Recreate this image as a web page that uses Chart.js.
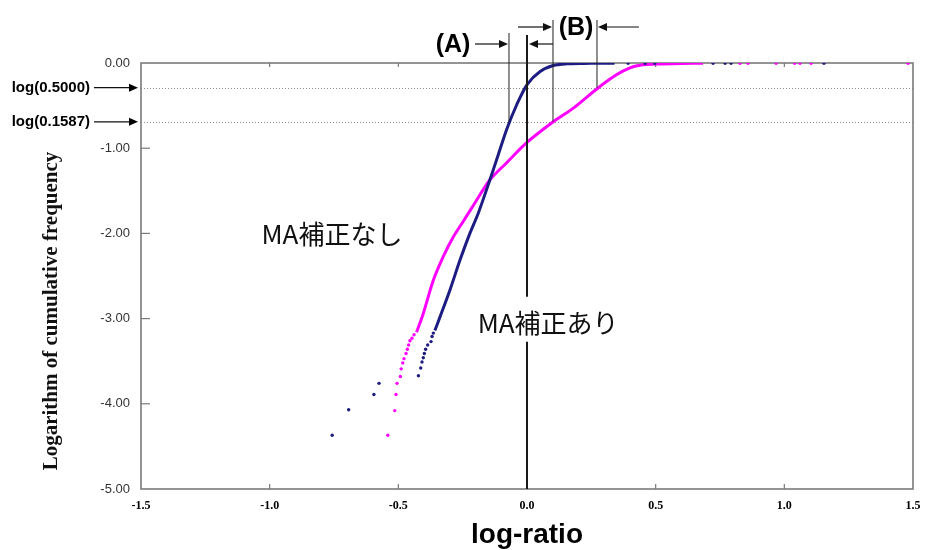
<!DOCTYPE html>
<html><head><meta charset="utf-8">
<script src="https://cdn.jsdelivr.net/npm/chart.js@4.4.1/dist/chart.umd.min.js"></script>
<style>html,body{margin:0;padding:0;background:#fff}#wrap{width:925px;height:550px}</style>
</head><body><div id="wrap"><canvas id="c" width="925" height="550"></canvas></div>
<script>
// ---- tick labels ----
const xTickLabels = ['-1.5','-1.0','-0.5','0.0','0.5','1.0','1.5'];
const yTickLabels = ['0.00','-1.00','-2.00','-3.00','-4.00','-5.00'];

// ---- MA補正あり (navy): dense part ----
const blueLineX = [-0.358,-0.338,-0.299,-0.260,-0.222,-0.189,-0.144,-0.112,-0.079,-0.040,0.001,0.051,0.102,0.154,0.220,0.280,0.340];
const blueLineY = [-3.14,-2.98,-2.66,-2.31,-2.00,-1.76,-1.37,-1.08,-0.78,-0.49,-0.25,-0.10,-0.03,-0.01,-0.005,-0.003,-0.002];
// sparse tail points
const blueDotX = [-0.757,-0.693,-0.595,-0.575,-0.422,-0.413,-0.408,-0.403,-0.399,-0.394,-0.386,-0.373,-0.369,-0.364,0.393,0.459,0.497,0.723,0.770,0.793,1.154];
const blueDotY = [-4.37,-4.07,-3.89,-3.76,-3.67,-3.58,-3.51,-3.46,-3.41,-3.36,-3.31,-3.27,-3.21,-3.17,-0.003,-0.003,-0.003,-0.003,-0.003,-0.003,-0.003];

// ---- MA補正なし (magenta): dense part ----
const pinkLineX = [-0.429,-0.403,-0.364,-0.325,-0.286,-0.248,-0.202,-0.144,-0.079,0.001,0.102,0.180,0.277,0.349,0.400,0.439,0.504,0.600,0.684];
const pinkLineY = [-3.16,-2.94,-2.55,-2.27,-2.04,-1.86,-1.64,-1.37,-1.17,-0.93,-0.69,-0.53,-0.29,-0.135,-0.056,-0.026,-0.012,-0.005,-0.003];
const pinkDotX = [-0.541,-0.514,-0.509,-0.505,-0.492,-0.489,-0.483,-0.478,-0.470,-0.465,-0.460,-0.455,-0.447,-0.439,0.828,0.859,0.968,1.040,1.061,1.104,1.481];
const pinkDotY = [-4.37,-4.08,-3.89,-3.76,-3.68,-3.59,-3.52,-3.47,-3.41,-3.36,-3.31,-3.26,-3.23,-3.19,-0.003,-0.003,-0.003,-0.003,-0.003,-0.003,-0.003];

// ---- reference levels (as drawn) and range markers ----
const refLevels = [-0.29, -0.69];
const refLabels = ['log(0.5000)', 'log(0.1587)'];
const markerA = [-0.07, 0.0];
const markerB = [0.101, 0.272];
const seriesNames = ['MA補正あり', 'MA補正なし'];

const NAVY = '#1c1c82', MAGENTA = '#ff00ff';
const pts = (xs, ys) => xs.map((v, i) => ({x: v, y: ys[i]}));

function arrow(ctx, x1, y1, x2, y2) {
  const ang = Math.atan2(y2 - y1, x2 - x1), L = 9, W = 4;
  ctx.beginPath(); ctx.moveTo(x1, y1);
  ctx.lineTo(x2 - L * Math.cos(ang), y2 - L * Math.sin(ang)); ctx.stroke();
  ctx.beginPath(); ctx.moveTo(x2, y2);
  ctx.lineTo(x2 - L * Math.cos(ang) - W * Math.sin(ang), y2 - L * Math.sin(ang) + W * Math.cos(ang));
  ctx.lineTo(x2 - L * Math.cos(ang) + W * Math.sin(ang), y2 - L * Math.sin(ang) - W * Math.cos(ang));
  ctx.closePath(); ctx.fill();
}
function seg(ctx, x1, y1, x2, y2) { ctx.beginPath(); ctx.moveTo(x1, y1); ctx.lineTo(x2, y2); ctx.stroke(); }

const decor = {
  id: 'decor',
  beforeDatasetsDraw(chart) {
    const {ctx, chartArea: a, scales: {x, y}} = chart;
    ctx.save();
    ctx.strokeStyle = '#8a8a8a'; ctx.lineWidth = 1; ctx.setLineDash([1, 2]);
    refLevels.forEach(v => { const py = Math.round(y.getPixelForValue(v)) + 0.5; seg(ctx, a.left, py, a.right, py); });
    ctx.setLineDash([]);
    ctx.strokeStyle = '#7a7a7a'; ctx.lineWidth = 1.6;
    ctx.strokeRect(a.left, a.top, a.right - a.left, a.bottom - a.top);
    ctx.lineWidth = 1.2;
    x.ticks.forEach(t => {
      const px = x.getPixelForValue(t.value);
      if (px <= a.left + 1 || px >= a.right - 1) return;
      seg(ctx, px, a.bottom, px, a.bottom - 5);
      seg(ctx, px, a.top, px, a.top + 4);
    });
    y.ticks.forEach(t => {
      const py = y.getPixelForValue(t.value);
      if (py <= a.top + 1 || py >= a.bottom - 1) return;
      seg(ctx, a.left, py, a.left + 9, py);
    });
    ctx.restore();
  },
  afterDraw(chart) {
    const {ctx, chartArea: a, scales: {x, y}} = chart;
    ctx.save();
    ctx.strokeStyle = '#222'; ctx.fillStyle = '#111';
    const xA0 = x.getPixelForValue(markerA[0]), xA1 = x.getPixelForValue(markerA[1]);
    const xB0 = x.getPixelForValue(markerB[0]), xB1 = x.getPixelForValue(markerB[1]);
    const y05 = y.getPixelForValue(refLevels[0]), y16 = y.getPixelForValue(refLevels[1]);
    ctx.lineWidth = 1;
    seg(ctx, xA0, a.top - 30, xA0, y16);
    seg(ctx, xB0, a.top - 43, xB0, y16);
    seg(ctx, xB1, a.top - 43, xB1, y05);
    const labAri = {x: 0.082, y: -3.05};
    const ly = y.getPixelForValue(labAri.y);
    ctx.lineWidth = 2; ctx.strokeStyle = '#1a1a1a';
    seg(ctx, xA1, a.top - 28, xA1, ly - 26);
    seg(ctx, xA1, ly + 19, xA1, a.bottom);
    ctx.lineWidth = 1.2; ctx.strokeStyle = '#111';
    const yArA = a.top - 19, yArB = a.top - 36;
    arrow(ctx, xA0 - 34, yArA, xA0 - 1, yArA);
    arrow(ctx, xB0, yArA, xA1 + 2, yArA);
    arrow(ctx, xA1 - 9, yArB, xB0 - 1, yArB);
    arrow(ctx, xB1 + 42, yArB, xB1 + 1, yArB);
    ctx.font = 'bold 25px "Liberation Sans", Arial, sans-serif';
    ctx.textAlign = 'center'; ctx.textBaseline = 'middle'; ctx.fillStyle = '#000';
    ctx.fillText('(A)', xA0 - 56, yArA + 1);
    ctx.fillText('(B)', (xB0 + xB1) / 2 + 1, yArB + 1);
    ctx.font = 'bold 15px "Liberation Sans", Arial, sans-serif';
    ctx.textAlign = 'right';
    refLevels.forEach((v, i) => {
      const py = y.getPixelForValue(v);
      ctx.fillText(refLabels[i], 90, py);
      arrow(ctx, 94, py, a.left - 3, py);
    });
    ctx.font = '26px "Noto Sans CJK JP", sans-serif';
    ctx.textAlign = 'center'; ctx.fillStyle = '#111';
    ctx.fillText(seriesNames[1], x.getPixelForValue(-0.758), y.getPixelForValue(-2.01));
    ctx.fillText(seriesNames[0], x.getPixelForValue(labAri.x), ly);
    ctx.save();
    ctx.translate(52, (a.top + a.bottom) / 2 + 35);
    ctx.rotate(-Math.PI / 2);
    ctx.font = 'bold 21px "Liberation Serif", "Times New Roman", serif';
    ctx.fillStyle = '#111';
    ctx.fillText('Logarithm of cumulative frequency', 0, 0);
    ctx.restore();
    ctx.restore();
  }
};

new Chart(document.getElementById('c'), {
  type: 'scatter',
  data: {
    datasets: [
      {label: seriesNames[0], data: pts(blueLineX, blueLineY), showLine: true, borderColor: NAVY, borderWidth: 3, pointRadius: 0, tension: 0.3},
      {label: seriesNames[0] + ' tail', data: pts(blueDotX, blueDotY), backgroundColor: NAVY, borderWidth: 0, pointRadius: 1.7},
      {label: seriesNames[1], data: pts(pinkLineX, pinkLineY), showLine: true, borderColor: MAGENTA, borderWidth: 3, pointRadius: 0, tension: 0.3},
      {label: seriesNames[1] + ' tail', data: pts(pinkDotX, pinkDotY), backgroundColor: MAGENTA, borderWidth: 0, pointRadius: 1.7}
    ]
  },
  options: {
    responsive: false, animation: false,
    layout: {padding: {top: 63, right: 12, left: 0, bottom: 0}},
    plugins: {legend: {display: false}, tooltip: {enabled: false}},
    scales: {
      x: {
        type: 'linear', min: -1.5, max: 1.5,
        ticks: {stepSize: 0.5, padding: 10, color: '#000',
          font: {family: '"Liberation Serif", serif', weight: 'bold', size: 12},
          callback: v => xTickLabels[Math.round((v + 1.5) / 0.5)]},
        grid: {display: false, drawTicks: false}, border: {display: false},
        title: {display: true, text: 'log-ratio', color: '#000',
          font: {family: '"Liberation Sans", Arial, sans-serif', weight: 'bold', size: 28, lineHeight: 1.05}, padding: {top: 0, bottom: 0}},
        afterFit: s => { s.height = 61; s.paddingLeft = 0; s.paddingRight = 0; }
      },
      y: {
        type: 'linear', min: -5, max: 0,
        ticks: {stepSize: 1, padding: 11, color: '#333',
          font: {family: '"Liberation Sans Narrow", "Liberation Sans", Arial, sans-serif', size: 13},
          callback: v => yTickLabels[Math.round(-v)]},
        grid: {display: false, drawTicks: false}, border: {display: false},
        afterFit: s => { s.width = 141; }
      }
    }
  },
  plugins: [decor]
});
</script></body></html>
